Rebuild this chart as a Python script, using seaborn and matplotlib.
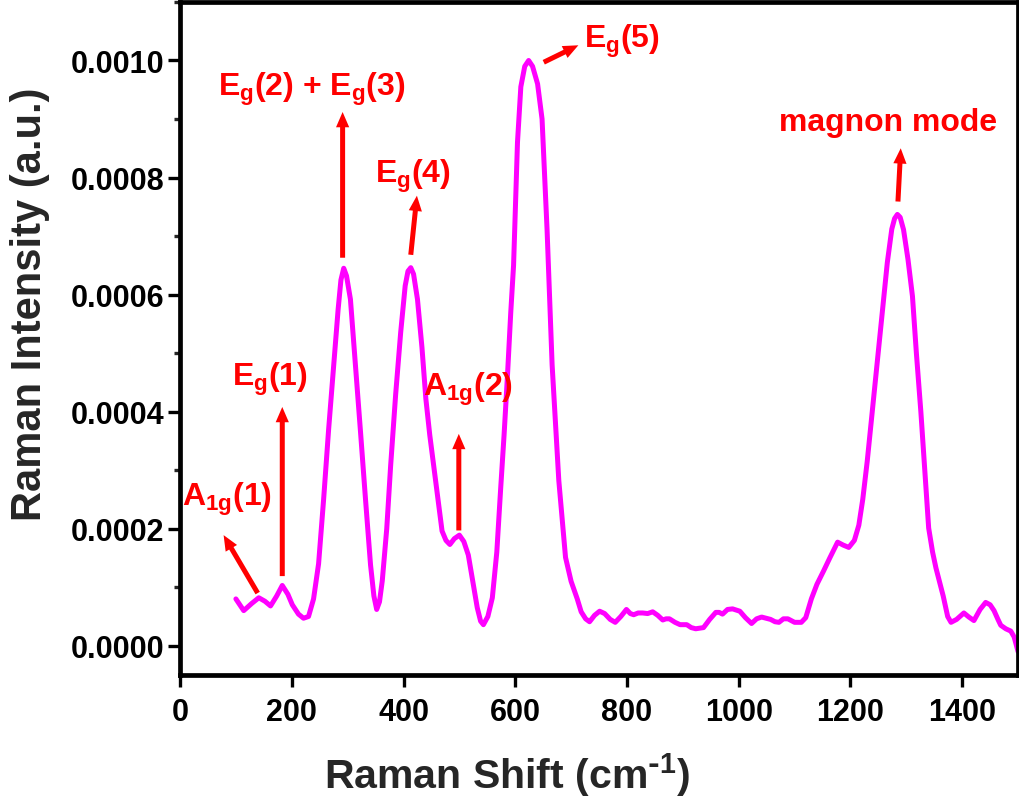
import matplotlib
matplotlib.use("Agg")
import matplotlib.pyplot as plt
import seaborn as sns
import numpy as np
import pandas as pd
from matplotlib.ticker import MultipleLocator, StrMethodFormatter

# ---- data ----
raman_shift = [100, 114, 128, 141, 152, 162, 173, 183, 193, 201, 212, 221, 230, 239, 248,
               257, 266, 275, 283, 288, 293, 298, 305, 314, 323, 332, 341, 347, 352, 357, 362,
               370, 377, 386, 395, 403, 408, 413, 418, 425, 433, 440, 447, 454, 462, 469, 476,
               483, 491, 500, 508, 516, 524, 532, 538, 543, 551, 559, 567, 574, 580, 586,
               592, 597, 604, 610, 617, 624, 631, 640, 648, 657, 666, 678, 690,
               700, 711, 718, 726, 733, 742, 751, 760, 770, 779, 789, 799, 806, 812,
               820, 828, 837, 846, 855, 864, 870, 876, 886, 895, 907, 915, 923, 930, 937,
               948, 959, 965, 971, 980, 989, 1002, 1012, 1023, 1032, 1041, 1049, 1057, 1065,
               1072, 1080, 1088, 1100, 1112, 1120, 1130, 1140, 1152, 1163, 1177, 1187, 1197,
               1207, 1215, 1222, 1230, 1239, 1248, 1257, 1266, 1274, 1279, 1284, 1289, 1295, 1303,
               1311, 1318, 1326, 1333, 1340, 1347, 1353, 1366, 1374, 1380, 1390, 1403, 1412,
               1421, 1432, 1442, 1450, 1457, 1464, 1469, 1478, 1487, 1493, 1500]
intensity = [0.000080, 0.000060, 0.000072, 0.000082, 0.000076, 0.000068, 0.000085, 0.000103,
             0.000088, 0.000070, 0.000054, 0.000047, 0.000050, 0.000080, 0.000140, 0.000250,
             0.000370, 0.000478, 0.000575, 0.000625, 0.000645, 0.000632, 0.000592, 0.000480, 0.000366,
             0.000250, 0.000138, 0.000085, 0.000062, 0.000075, 0.000111, 0.000200, 0.000308,
             0.000430, 0.000536, 0.000615, 0.000640, 0.000646, 0.000635, 0.000592, 0.000510, 0.000422,
             0.000360, 0.000308, 0.000250, 0.000196, 0.000180, 0.000173, 0.000183, 0.000189,
             0.000178, 0.000155, 0.000110, 0.000065, 0.000042, 0.000036, 0.000050, 0.000082,
             0.000160, 0.000270, 0.000360, 0.000460, 0.000570, 0.000650, 0.000860, 0.000955,
             0.000990, 0.001000, 0.000990, 0.000960, 0.000900, 0.000710, 0.000480, 0.000282,
             0.000151, 0.000110, 0.000080, 0.000058, 0.000046,
             0.000041, 0.000052, 0.000059, 0.000055, 0.000045, 0.000040, 0.000050, 0.000062,
             0.000055, 0.000053, 0.000056, 0.000056, 0.000055, 0.000058, 0.000052, 0.000044,
             0.000046, 0.000046, 0.000040, 0.000036, 0.000036, 0.000031, 0.000029, 0.000030,
             0.000031, 0.000045, 0.000057, 0.000057, 0.000054, 0.000062, 0.000063, 0.000059,
             0.000048, 0.000038, 0.000046, 0.000049, 0.000047, 0.000045, 0.000041, 0.000040,
             0.000046, 0.000046, 0.000040, 0.000040, 0.000048, 0.000080, 0.000105, 0.000128,
             0.000150, 0.000177, 0.000172, 0.000168, 0.000180, 0.000206, 0.000250, 0.000315,
             0.000400, 0.000485, 0.000570, 0.000655, 0.000712, 0.000730, 0.000737, 0.000732, 0.000711,
             0.000660, 0.000597, 0.000500, 0.000400, 0.000300, 0.000201, 0.000160, 0.000133,
             0.000085, 0.000050, 0.000040, 0.000045, 0.000056, 0.000049, 0.000043, 0.000062,
             0.000074, 0.000070, 0.000060, 0.000045, 0.000035, 0.000029, 0.000025, 0.000015,
             -0.000010]

# annotations: label, text position, arrow tail, arrow head
peak_labels = [r"$A_{1g}(1)$", r"$E_g(1)$", r"$E_g(2)$ + $E_g(3)$", r"$E_g(4)$",
               r"$A_{1g}(2)$", r"$E_g(5)$", "magnon mode"]
label_xy = [(84, 0.000252), (160, 0.000456), (236, 0.000952), (417, 0.000804),
            (516, 0.000439), (791, 0.001034), (1267, 0.000895)]
arrow_tail = [(139, 0.000090), (183, 0.000119), (291, 0.000663), (413, 0.000668),
              (499, 0.000197), (651, 0.000997), (1285, 0.000759)]
arrow_head = [(78, 0.000189), (183, 0.000408), (291, 0.000912), (424, 0.000769),
              (499, 0.000362), (713, 0.001026), (1290, 0.000850)]

df = pd.DataFrame({"shift": raman_shift, "intensity": intensity})

sns.set_theme(style="ticks")
plt.rcParams["font.family"] = ["Liberation Sans", "DejaVu Sans"]
plt.rcParams["font.weight"] = "bold"
plt.rcParams["mathtext.default"] = "regular"
plt.rcParams["axes.labelweight"] = "bold"

fig = plt.figure(figsize=(10.2, 8.04), dpi=100)
ax = fig.add_axes([0.1765, 0.1592, 0.8216, 0.8371])

sns.lineplot(data=df, x="shift", y="intensity", color="#FF00FF", linewidth=3.6,
             sort=False, ax=ax)

ax.set_xlim(0, 1500)
ax.set_ylim(-0.00005, 0.0011)
ax.xaxis.set_major_locator(MultipleLocator(200))
ax.yaxis.set_major_locator(MultipleLocator(0.0002))
ax.yaxis.set_minor_locator(MultipleLocator(0.0001))
ax.yaxis.set_major_formatter(StrMethodFormatter("{x:.4f}"))

for s in ax.spines.values():
    s.set_visible(True)
    s.set_linewidth(3.4)
    s.set_color("black")

ax.tick_params(axis="both", which="major", direction="out", length=8.5, width=2.4,
               labelsize=22, colors="black")
ax.tick_params(axis="x", which="major", pad=7)
ax.tick_params(axis="y", which="major", pad=3)
ax.tick_params(axis="y", which="minor", direction="out", length=4.5, width=2.4)
ax.tick_params(top=False, right=False)
for lab in ax.get_xticklabels() + ax.get_yticklabels():
    lab.set_fontweight("bold")

ax.set_xlabel(r"Raman Shift (cm$^{\text{-}1}$)", fontsize=29.5, fontweight="bold")
ax.set_ylabel("Raman Intensity (a.u.)", fontsize=30, fontweight="bold")
ax.xaxis.set_label_coords(0.39, -0.112)
ax.yaxis.set_label_coords(-0.155, 0.552)

for lab, txy, t0, t1 in zip(peak_labels, label_xy, arrow_tail, arrow_head):
    ax.text(txy[0], txy[1], lab, color="red", fontsize=23, fontweight="bold",
            ha="center", va="center")
    ax.annotate("", xy=t1, xytext=t0,
                arrowprops=dict(arrowstyle="simple,head_width=0.95,head_length=1.1,tail_width=0.36",
                                mutation_scale=10, color="red", lw=0,
                                shrinkA=0, shrinkB=0))

fig.savefig("out.png", dpi=100)
